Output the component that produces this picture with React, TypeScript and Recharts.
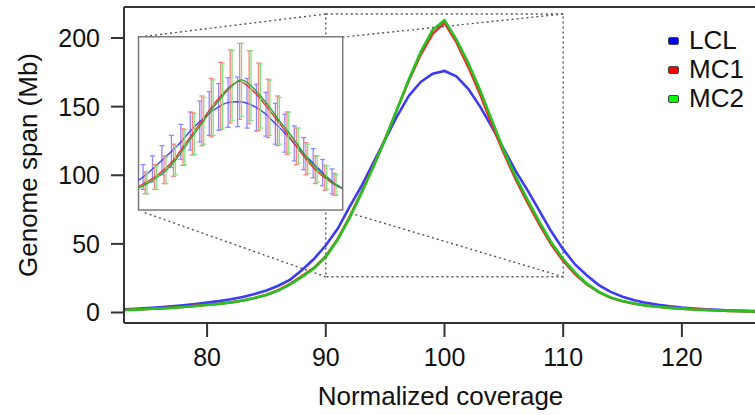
import {
  LineChart,
  Line,
  XAxis,
  YAxis,
  ReferenceLine,
  ReferenceArea,
  ErrorBar,
  Label,
} from "recharts";

const FONT = "'Liberation Sans', Arial, sans-serif";

// main panel: genome span (Mb) per normalized coverage
const coverage = [
  73, 74, 75, 76, 77, 78, 79, 80, 81, 82, 83, 84, 85, 86, 87, 88, 89, 90, 91,
  92, 93, 94, 95, 96, 97, 98, 99, 100, 101, 102, 103, 104, 105, 106, 107, 108,
  109, 110, 111, 112, 113, 114, 115, 116, 117, 118, 119, 120, 121, 122, 123,
  124, 125, 126, 127,
];
const lclSpan = [
  2.3, 2.7, 3.2, 3.8, 4.5, 5.3, 6.2, 7.2, 8.3, 9.6, 11.3, 13.4, 16, 19.5, 24,
  31, 39, 49, 61, 77, 92, 109, 126, 143, 158, 168, 174, 176, 172, 163, 150, 135,
  119, 103, 89, 74, 59, 46, 35, 27, 20, 15, 11.5, 9, 7, 5.6, 4.5, 3.6, 2.9, 2.3,
  1.9, 1.5, 1.2, 1.0, 0.8,
];
const mc1Span = [
  1.9, 2.2, 2.6, 3.0, 3.5, 4.1, 4.8, 5.6, 6.4, 7.4, 8.8, 10.6, 13, 16.3, 20.8,
  26.5, 32.5, 41, 53.5, 69.5, 87.5, 106.5, 126.5, 148, 169, 188, 203, 211, 197,
  179, 159, 137, 116, 97, 80, 64, 49.5, 37.5, 28, 20.5, 14.8, 10.8, 8.2, 6.4,
  5.1, 4.2, 3.4, 2.8, 2.3, 1.9, 1.5, 1.2, 1.0, 0.8, 0.7,
];
const mc2Span = [
  1.8, 2.1, 2.5, 2.9, 3.4, 4.0, 4.7, 5.5, 6.3, 7.3, 8.7, 10.5, 12.8, 16, 20.5,
  26, 32, 40.5, 53, 69, 87, 106, 126, 148, 170, 190, 206, 213, 199, 182, 162,
  140, 118, 99, 82, 66, 51, 39, 29, 21, 15, 11, 8.3, 6.5, 5, 4.2, 3.4, 2.8, 2.2,
  1.8, 1.5, 1.2, 1.0, 0.8, 0.6,
];

const xTicks = [80, 90, 100, 110, 120];
const yTicks = [0, 50, 100, 150, 200];

// inset: zoomed view with error bars (end points sit just outside the box)
const insetCoverage = [
  94.5, 95, 95.5, 96, 96.5, 97, 97.5, 98, 98.5, 99, 99.5, 100, 100.5, 101,
  101.5, 102, 102.5, 103, 103.5, 104, 104.5, 105, 105.5,
];
const insetLcl = [
  14, 18.5, 24, 30, 36, 42.5, 50, 56.5, 62, 66.5, 69.5, 70, 69, 66, 61.5, 55,
  48.5, 41.5, 34.5, 28, 21.5, 15.5, 11,
];
const insetLclErr = [
  0, 8.5, 9, 10, 11, 12, 13, 14, 15, 16, 17, 17, 17, 16, 15, 14, 13, 12, 11, 10,
  9, 8.5, 0,
];
const insetMc1 = [
  11, 14.5, 18.5, 23.5, 30, 39, 48, 57, 66, 74, 80.5, 84, 80, 73.5, 65.5, 57,
  48.5, 39.5, 31, 23.5, 18, 13.5, 10,
];
const insetMc1Err = [
  0, 7.5, 8.5, 9.5, 11, 12.5, 14.5, 17, 20, 23, 25, 26, 25, 23, 20, 17, 14.5,
  12.5, 11, 9.5, 8.5, 7.5, 0,
];
const insetMc2 = [
  10.5, 14, 18, 23, 30, 39, 48, 57, 66, 74, 81, 85, 81, 74, 66, 57, 49, 40, 31,
  24, 18, 13, 9.5,
];
const insetMc2Err = [
  0, 7, 8, 9, 10, 12, 14, 16, 19, 22, 24, 25, 24, 22, 19, 16, 14, 12, 10, 9, 8,
  7, 0,
];
const insetXTicks = [95, 97.5, 100, 102.5, 105];
const insetYTicks = [0, 20, 40, 60, 80, 100];

const series = [
  { name: "LCL", values: lclSpan, stroke: "#3b3bf2", swatch: "#0000ff" },
  { name: "MC1", values: mc1Span, stroke: "#f22a2a", swatch: "#ff0000" },
  { name: "MC2", values: mc2Span, stroke: "#22c422", swatch: "#00ff00" },
];

const insetSeries = [
  { name: "LCL", values: insetLcl, err: insetLclErr, shift: -0.11, stroke: "#4646ee", bar: "#8a8aff" },
  { name: "MC1", values: insetMc1, err: insetMc1Err, shift: 0, stroke: "#e83030", bar: "#ff8080" },
  { name: "MC2", values: insetMc2, err: insetMc2Err, shift: 0.1, stroke: "#2aa82a", bar: "#80e080" },
];

// zoom box and its connector lines (main chart data units)
const zoomBox = { x1: 90, x2: 110, y1: 26, y2: 217.5 };
const zoomLinks = [
  [{ x: 90, y: 217.5 }, { x: 74.26, y: 200.7 }],
  [{ x: 110, y: 217.5 }, { x: 91.45, y: 200.7 }],
  [{ x: 90, y: 26 }, { x: 74.6, y: 73.2 }],
  [{ x: 110, y: 26 }, { x: 91.45, y: 74 }],
];

const rows = coverage.map((c, i) => ({
  coverage: c,
  LCL: lclSpan[i],
  MC1: mc1Span[i],
  MC2: mc2Span[i],
}));

const axisStroke = { stroke: "#333", strokeWidth: 2 };

function XTitle({ viewBox }: any) {
  return (
    <text
      x={viewBox.x + viewBox.width / 2 - 4}
      y={405}
      textAnchor="middle"
      fontSize={26}
      fontFamily={FONT}
      fill="#111"
    >
      Normalized coverage
    </text>
  );
}

function YTitle({ viewBox }: any) {
  const cy = viewBox.y + viewBox.height / 2;
  return (
    <text
      x={28}
      y={cy}
      transform={`rotate(-90 28 ${cy})`}
      textAnchor="middle"
      dominantBaseline="central"
      fontSize={26}
      fontFamily={FONT}
      fill="#111"
    >
      Genome span (Mb)
    </text>
  );
}

function SpanLegend() {
  return (
    <div style={{ position: "absolute", left: 668, top: 26, fontFamily: FONT }}>
      {series.map((s) => (
        <div key={s.name} style={{ display: "flex", alignItems: "center", height: 29 }}>
          <span
            style={{
              width: 9,
              height: 6,
              background: s.swatch,
              border: "1.5px solid #444",
              borderRadius: 2,
              marginRight: 10,
            }}
          />
          <span style={{ fontSize: 26, lineHeight: "29px", color: "#111" }}>{s.name}</span>
        </div>
      ))}
    </div>
  );
}

function Inset() {
  return (
    <div style={{ position: "absolute", left: 130, top: 30 }}>
      <LineChart width={220} height={200} margin={{ top: 6.7, right: 7.3, bottom: 0, left: 0 }}>
        <ReferenceArea
          x1={94.65}
          x2={105.45}
          y1={-4.1}
          y2={114.6}
          fill="#fff"
          fillOpacity={1}
          stroke="#7a7a7a"
          strokeWidth={1.5}
        />
        <XAxis
          type="number"
          dataKey="x"
          domain={[94.65, 105.45]}
          ticks={insetXTicks}
          allowDataOverflow
          height={20}
          tickSize={7}
          tick={false}
          axisLine={false}
          tickLine={{ stroke: "#7a7a7a", strokeWidth: 1.2 }}
        />
        <YAxis
          type="number"
          domain={[-4.1, 114.6]}
          ticks={insetYTicks}
          allowDataOverflow
          width={8.5}
          tickSize={5}
          tick={false}
          axisLine={false}
          tickLine={{ stroke: "#7a7a7a", strokeWidth: 1.2 }}
        />
        {insetSeries.map((s) => (
          <Line
            key={s.name}
            data={insetCoverage.map((c, i) => ({ x: c + s.shift, y: s.values[i], err: s.err[i] }))}
            dataKey="y"
            type="monotone"
            stroke={s.stroke}
            strokeWidth={1.4}
            dot={false}
            isAnimationActive={false}
          >
            <ErrorBar
              dataKey="err"
              direction="y"
              width={2.5}
              stroke={s.bar}
              strokeWidth={1.3}
              isAnimationActive={false}
            />
          </Line>
        ))}
      </LineChart>
    </div>
  );
}

export default function App() {
  return (
    <div
      style={{
        position: "absolute",
        left: 0,
        top: 0,
        width: 755,
        height: 415,
        overflow: "hidden",
        background: "#fff",
        fontFamily: FONT,
      }}
    >
      <LineChart
        width={775}
        height={415}
        data={rows}
        margin={{ top: 7, right: 10, bottom: 0, left: 0 }}
      >
        <XAxis
          type="number"
          dataKey="coverage"
          domain={[73, 127]}
          ticks={xTicks}
          allowDataOverflow
          height={92}
          tickSize={14}
          tickMargin={11}
          axisLine={axisStroke}
          tickLine={axisStroke}
          tick={{ fill: "#111", fontSize: 25, fontFamily: FONT }}
        >
          <Label content={XTitle} />
        </XAxis>
        <YAxis
          type="number"
          domain={[-7.65, 222.6]}
          ticks={yTicks}
          allowDataOverflow
          width={124}
          tickSize={13}
          tickMargin={11}
          axisLine={axisStroke}
          tickLine={axisStroke}
          tick={{ fill: "#111", fontSize: 25, fontFamily: FONT }}
        >
          <Label content={YTitle} />
        </YAxis>
        <ReferenceLine y={222.6} stroke="#333" strokeWidth={2} />
        <ReferenceArea
          x1={zoomBox.x1}
          x2={zoomBox.x2}
          y1={zoomBox.y1}
          y2={zoomBox.y2}
          fill="none"
          stroke="#555"
          strokeWidth={1.4}
          strokeDasharray="2 3"
        />
        {zoomLinks.map((seg, i) => (
          <ReferenceLine
            key={i}
            segment={seg}
            stroke="#555"
            strokeWidth={1.4}
            strokeDasharray="2 3"
            ifOverflow="visible"
          />
        ))}
        {series.map((s) => (
          <Line
            key={s.name}
            dataKey={s.name}
            type="linear"
            stroke={s.stroke}
            strokeWidth={2.6}
            dot={false}
            isAnimationActive={false}
          />
        ))}
      </LineChart>
      <Inset />
      <SpanLegend />
    </div>
  );
}
